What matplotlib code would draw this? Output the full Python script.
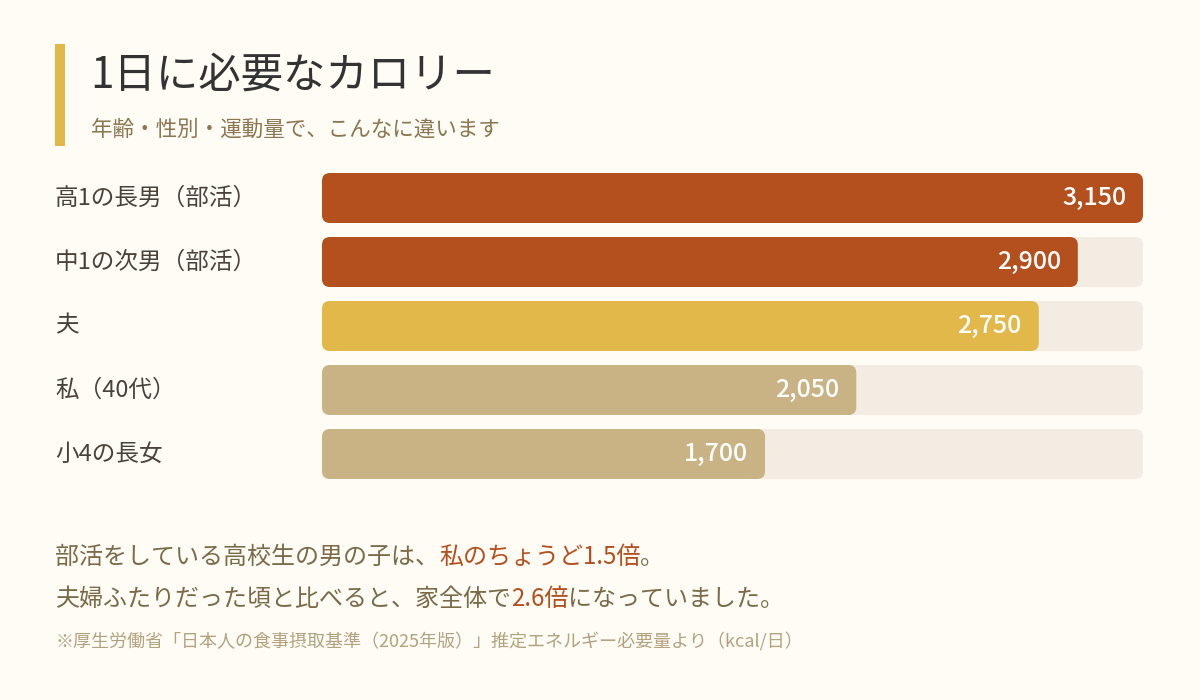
import matplotlib
matplotlib.use("Agg")
import matplotlib.pyplot as plt
from matplotlib.patches import FancyBboxPatch, Rectangle
from matplotlib.transforms import blended_transform_factory

plt.rcParams['font.family'] = ['Noto Sans CJK JP', 'DejaVu Sans']

# ---- data ----
categories = ["高1の長男（部活）", "中1の次男（部活）", "夫", "私（40代）", "小4の長女"]
values = [3150, 2900, 2750, 2050, 1700]
value_labels = ["3,150", "2,900", "2,750", "2,050", "1,700"]
bar_colors = ["#B4501E", "#B4501E", "#E2B84B", "#C9B283", "#C9B283"]
max_value = 3150

title = "1日に必要なカロリー"
subtitle = "年齢・性別・運動量で、こんなに違います"
note_line1 = [("部活をしている高校生の男の子は、", False), ("私のちょうど1.5倍", True), ("。", False)]
note_line2 = [("夫婦ふたりだった頃と比べると、家全体で", False), ("2.6倍", True), ("になっていました。", False)]
footnote = "※厚生労働省「日本人の食事摂取基準（2025年版）」推定エネルギー必要量より（kcal/日）"

BG = "#FEFCF5"
TRACK = "#F2ECE2"
TEXT_DARK = "#333333"
LABEL = "#4A4238"
SUB = "#8B7650"
BODY = "#7A6A48"
HILITE = "#B4501E"
FOOT = "#B3A27E"

W, H = 1200, 700
fig = plt.figure(figsize=(W / 100, H / 100), dpi=100, facecolor=BG)

# overlay axes in pixel coordinates for decoration / text
deco = fig.add_axes([0, 0, 1, 1])
deco.set_xlim(0, W)
deco.set_ylim(H, 0)
deco.axis("off")
deco.set_facecolor("none")

deco.add_patch(Rectangle((55, 44), 10, 102, color="#E2B84B", lw=0))
deco.text(90, 76, title, fontsize=30.5, color=TEXT_DARK, va="center", ha="left")
deco.text(91, 130, subtitle, fontsize=15.5, color=SUB, va="center", ha="left")

# bar axes
left_px, right_px = 322, 1143
top_px, row_h = 166, 64
n = len(categories)
ax = fig.add_axes([left_px / W, 1 - (top_px + n * row_h) / H,
                   (right_px - left_px) / W, n * row_h / H])
ax.set_xlim(0, max_value)
ax.set_ylim(n - 0.5, -0.5)
ax.axis("off")
ax.set_facecolor("none")

px_per_x = (right_px - left_px) / max_value
radius_px = 8
r_x = radius_px / px_per_x
aspect = (radius_px / row_h) / r_x
bh = 50 / row_h

for i, (cat, v, lab, c) in enumerate(zip(categories, values, value_labels, bar_colors)):
    ax.add_patch(FancyBboxPatch((0, i - bh / 2), max_value, bh,
                                boxstyle=f"round,pad=0,rounding_size={r_x}",
                                mutation_aspect=aspect, fc=TRACK, ec="none"))
    ax.add_patch(FancyBboxPatch((0, i - bh / 2), v, bh,
                                boxstyle=f"round,pad=0,rounding_size={r_x}",
                                mutation_aspect=aspect, fc=c, ec="none"))
    ax.annotate(lab, xy=(v, i), xytext=(-17, 0), textcoords="offset pixels",
                ha="right", va="center", fontsize=18, color="white", fontweight="medium")

trans = blended_transform_factory(fig.transFigure, ax.transData)
for i, cat in enumerate(categories):
    ax.text(55 / W, i, cat, transform=trans, ha="left", va="center",
            fontsize=17, color=LABEL)

def draw_line(parts, x, y, size):
    prev = None
    for txt, hl in parts:
        col = HILITE if hl else BODY
        if prev is None:
            prev = deco.text(x, y, txt, fontsize=size, color=col, ha="left", va="center")
        else:
            prev = deco.annotate(txt, xy=(1, 0), xycoords=prev, ha="left", va="bottom",
                                 fontsize=size, color=col)

draw_line(note_line1, 55, 557, 17.3)
draw_line(note_line2, 55, 599, 17.3)
deco.text(55, 641, footnote, fontsize=13, color=FOOT, ha="left", va="center")

fig.savefig("out.png", dpi=100, facecolor=BG)
